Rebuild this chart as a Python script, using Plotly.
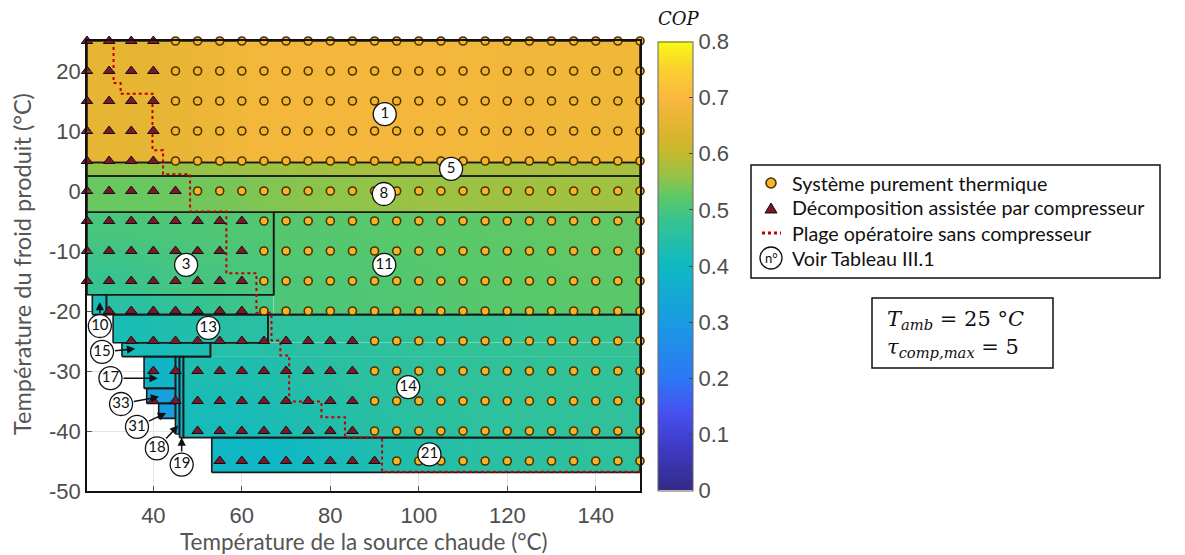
import plotly.graph_objects as go

# ---------------- data ----------------
# operating points grid (rows of cold temperature)
row_y = [25, 20, 15, 10, 5, 0, -5, -10, -15, -20, -25, -30, -35, -40, -45]
tri_first = [25, 25, 25, 25, 25, 25, 25, 25, 25, 30, 35, 40, 40, 50, 55]
tri_last = [40, 40, 40, 40, 40, 45, 60, 60, 60, 60, 85, 85, 85, 85, 90]
circ_first = [45, 45, 45, 45, 45, 50, 65, 65, 65, 65, 90, 90, 90, 90, 95]
circ_last = 150
x_step = 5

# coloured regions (rectangles) with COP estimates (rows bottom->top, cols left->right)
fill_id = ["1", "5", "8", "3", "11a", "11b", "10", "13", "15", "17", "33", "31", "18", "19", "14a", "14b", "14c", "21"]
fill_x0 = [25, 25, 25, 25, 67.2, 29.4, 26.2, 30.9, 32.9, 37.9, 38.5, 41.2, 45.0, 45.9, 46.8, 52.9, 65.9, 53.2]
fill_x1 = [150, 150, 150, 67.2, 150, 67.2, 29.4, 65.9, 52.9, 45.0, 45.0, 45.0, 45.9, 46.8, 150, 150, 150, 150]
fill_y0 = [4.75, 2.5, -3.55, -17.3, -20.6, -20.6, -20.6, -25.3, -27.6, -32.9, -35.4, -37.9, -40.5, -41.1, -41.1, -27.6, -25.3, -46.9]
fill_y1 = [25, 4.75, 2.5, -3.55, -3.55, -17.3, -17.3, -20.6, -25.3, -27.6, -32.9, -35.4, -27.6, -27.6, -27.6, -25.3, -20.6, -41.1]
fill_cop = [
    [[0.655, 0.685, 0.69, 0.685, 0.68]],
    [[0.555, 0.57, 0.575, 0.575]],
    [[0.53, 0.55, 0.565, 0.57]],
    [[0.48, 0.495, 0.5], [0.5, 0.505, 0.51]],
    [[0.505, 0.515, 0.52], [0.515, 0.52, 0.525]],
    [[0.455, 0.475, 0.49]],
    [[0.42]],
    [[0.425, 0.44, 0.45]],
    [[0.415, 0.425]],
    [[0.385]],
    [[0.315]],
    [[0.305]],
    [[0.37]],
    [[0.38]],
    [[0.415, 0.445, 0.46, 0.465], [0.43, 0.455, 0.465, 0.47]],
    [[0.445, 0.46, 0.47, 0.475]],
    [[0.46, 0.47, 0.48]],
    [[0.395, 0.43, 0.45, 0.46]],
]

# region outlines
outline_rect_ids = ["1", "5", "8", "3", "10", "13", "15", "17", "33", "31", "18", "19", "21"]
outline_11 = [(67.2, -3.55), (150, -3.55), (150, -20.6), (29.4, -20.6), (29.4, -17.3), (67.2, -17.3), (67.2, -3.55)]
outline_14 = [(65.9, -20.6), (150, -20.6), (150, -41.1), (46.8, -41.1), (46.8, -27.6), (52.9, -27.6),
              (52.9, -25.3), (65.9, -25.3), (65.9, -20.6)]

# operating range without compressor (dotted boundary)
dot_x = [31, 31, 32.6, 32.6, 39.8, 39.8, 42.2, 42.2, 48.3, 48.3, 56.5, 56.5, 63.3, 63.3, 66.7, 66.7,
         68.7, 68.7, 70.7, 70.7, 78, 78, 83.3, 83.3, 91.7, 91.7, 150]
dot_y = [25, 18, 18, 16.2, 16.2, 6.8, 6.8, 2.8, 2.8, -3.4, -3.4, -13.7, -13.7, -20.3, -20.3, -24.9,
         -24.9, -27.4, -27.4, -35.1, -35.1, -37.7, -37.7, -41.1, -41.1, -46.8, -46.8]

# numbered labels
lab_text = ["1", "5", "8", "3", "11", "13", "14", "21", "10", "15", "17", "33", "31", "18", "19"]
lab_x = [92.3, 107.3, 92.1, 47.4, 92.2, 52.4, 97.6, 102.4, 27.9, 28.4, 30.3, 32.7, 36.3, 40.8, 46.4]
lab_y = [12.8, 3.7, -0.5, -12.3, -12.3, -22.8, -32.7, -43.9, -22.5, -26.8, -31.2, -35.5, -39.3, -42.9, -45.6]
arr_label = ["10", "15", "17", "33", "31", "18", "19"]
arr_x = [27.9, 35.9, 41.0, 41.3, 42.9, 45.6, 46.4]
arr_y = [-18.5, -26.3, -31.2, -34.3, -37.0, -39.1, -41.1]

x_ticks = [40, 60, 80, 100, 120, 140]
y_ticks = [-50, -40, -30, -20, -10, 0, 10, 20]
y_tick_text = ["-50", "-40", "-30", "-20", "-10", "0", "10", "20"]
cb_ticks = [0, 0.1, 0.2, 0.3, 0.4, 0.5, 0.6, 0.7, 0.8]
cb_text = ["0", "0.1", "0.2", "0.3", "0.4", "0.5", "0.6", "0.7", "0.8"]

parula = [
    [0.0, "rgb(53,42,135)"], [0.1, "rgb(62,60,200)"], [0.17, "rgb(70,80,240)"],
    [0.25, "rgb(45,120,245)"], [0.375, "rgb(25,155,225)"], [0.5, "rgb(15,185,195)"],
    [0.6, "rgb(55,195,145)"], [0.65, "rgb(90,200,105)"], [0.7, "rgb(150,195,70)"],
    [0.75, "rgb(195,185,45)"], [0.8, "rgb(222,180,48)"], [0.875, "rgb(250,184,62)"],
    [0.94, "rgb(250,210,45)"], [1.0, "rgb(248,250,20)"],
]

# ---------------- figure ----------------
# the page body has an 8 px margin: everything is laid out in window pixels
OFF = 8
WIN_W, WIN_H = 1185, 555
PL, PR, PT, PB = 87, 640, 41, 491          # plot area in window pixels
W, H = WIN_W - OFF, WIN_H - OFF
ML, MT = PL - OFF, PT - OFF
MR, MB = W - (PR - OFF), H - (PB - OFF)
PW, PH = PR - PL, PB - PT


def px2x(px):
    return (px - PL) / PW


def px2y(py):
    return (PB - py) / PH


fig = go.Figure()

# regions (heatmaps)
for i in range(len(fill_id)):
    z = [list(r) for r in fill_cop[i]]
    if len(z[0]) == 1:
        z = [r * 2 for r in z]
    if len(z) == 1:
        z = [z[0], z[0]]
    nr, nc = len(z), len(z[0])
    x0, x1, y0, y1 = fill_x0[i], fill_x1[i], fill_y0[i], fill_y1[i]
    xe = [x0 + (x1 - x0) * k / nc for k in range(nc + 1)]
    ye = [y0 + (y1 - y0) * k / nr for k in range(nr + 1)]
    fig.add_trace(go.Heatmap(x=xe, y=ye, z=z, coloraxis="coloraxis", zsmooth="best",
                             hoverinfo="skip", showlegend=False))

# outlines
for rid in outline_rect_ids:
    i = fill_id.index(rid)
    x0, x1, y0, y1 = fill_x0[i], fill_x1[i], fill_y0[i], fill_y1[i]
    fig.add_trace(go.Scatter(x=[x0, x1, x1, x0, x0], y=[y0, y0, y1, y1, y0], mode="lines",
                             line=dict(color="#1a1a1a", width=1.6), hoverinfo="skip",
                             showlegend=False, cliponaxis=False))
for poly in (outline_11, outline_14):
    fig.add_trace(go.Scatter(x=[p[0] for p in poly], y=[p[1] for p in poly], mode="lines",
                             line=dict(color="#1a1a1a", width=1.6), hoverinfo="skip",
                             showlegend=False, cliponaxis=False))

# dotted operating range
fig.add_trace(go.Scatter(x=dot_x, y=dot_y, mode="lines",
                         line=dict(color="#c00000", width=2, dash="dot"),
                         hoverinfo="skip", showlegend=False, cliponaxis=False))

# points
tx, ty, cx, cy = [], [], [], []
for k, yv in enumerate(row_y):
    xv = tri_first[k]
    while xv <= tri_last[k]:
        tx.append(xv)
        ty.append(yv)
        xv += x_step
    xv = circ_first[k]
    while xv <= circ_last:
        cx.append(xv)
        cy.append(yv)
        xv += x_step

fig.add_trace(go.Scatter(x=cx, y=cy, mode="markers", cliponaxis=False, showlegend=False,
                         marker=dict(symbol="circle", size=8, color="#f6b42a",
                                     line=dict(color="#4a3500", width=1.6))))
fig.add_trace(go.Scatter(x=tx, y=ty, mode="markers", cliponaxis=False, showlegend=False,
                         marker=dict(symbol="triangle-up", size=10, color="#7d1629",
                                     line=dict(color="#111111", width=1))))

# label circles
fig.add_trace(go.Scatter(x=lab_x, y=lab_y, mode="markers+text", text=lab_text,
                         textposition="middle center", cliponaxis=False, showlegend=False,
                         textfont=dict(family="Lato", size=15, color="#111111"),
                         marker=dict(symbol="circle", size=23, color="white",
                                     line=dict(color="#111111", width=1.3))))

annotations = []
for k, lab in enumerate(arr_label):
    j = lab_text.index(lab)
    annotations.append(dict(x=arr_x[k], y=arr_y[k], ax=lab_x[j], ay=lab_y[j], xref="x", yref="y",
                            axref="x", ayref="y", text="", showarrow=True, arrowhead=2,
                            arrowsize=1.1, arrowwidth=1.5, arrowcolor="#111111",
                            startstandoff=11.5))

# axis titles
annotations.append(dict(x=px2x(364), y=px2y(541), xref="paper", yref="paper",
                        text="Température de la source chaude (°C)", showarrow=False,
                        font=dict(family="Lato", size=22.5, color="#555555"),
                        xanchor="center", yanchor="middle"))
annotations.append(dict(x=px2x(22), y=px2y(264), xref="paper", yref="paper",
                        text="Température du froid produit (°C)", showarrow=False,
                        font=dict(family="Lato", size=23.5, color="#555555"),
                        textangle=-90, xanchor="center", yanchor="middle"))
# colorbar title
annotations.append(dict(x=px2x(679), y=px2y(18), xref="paper", yref="paper",
                        text="<i>COP</i>", showarrow=False,
                        font=dict(family="DejaVu Serif", size=18, color="#111111"),
                        xanchor="center", yanchor="middle"))

# manual legend
shapes = []
shapes.append(dict(type="rect", xref="paper", yref="paper", x0=px2x(751), x1=px2x(1160),
                   y0=px2y(278), y1=px2y(165), line=dict(color="#111111", width=1.5),
                   fillcolor="white"))
leg_y = [183, 208, 233, 258]
leg_text = ["Système purement thermique", "Décomposition assistée par compresseur",
            "Plage opératoire sans compresseur", "Voir Tableau III.1"]
leg_font = dict(family="Lato", size=19.7, color="#111111")
for k, t in enumerate(leg_text):
    annotations.append(dict(x=px2x(790), y=px2y(leg_y[k]), xref="paper", yref="paper", text=t,
                            showarrow=False, font=leg_font, xanchor="left", yanchor="middle"))
shapes.append(dict(type="circle", xref="paper", yref="paper", x0=px2x(766), x1=px2x(776),
                   y0=px2y(188), y1=px2y(178), fillcolor="#f6b42a",
                   line=dict(color="#4a3500", width=1.6)))
shapes.append(dict(type="path", xref="paper", yref="paper",
                   path="M {:.5f},{:.5f} L {:.5f},{:.5f} L {:.5f},{:.5f} Z".format(
                       px2x(765), px2y(213), px2x(777), px2y(213), px2x(771), px2y(203)),
                   fillcolor="#7d1629", line=dict(color="#111111", width=1)))
shapes.append(dict(type="line", xref="paper", yref="paper", x0=px2x(762), x1=px2x(781),
                   y0=px2y(233), y1=px2y(233), line=dict(color="#c00000", width=3, dash="dot")))
shapes.append(dict(type="circle", xref="paper", yref="paper", x0=px2x(760), x1=px2x(782),
                   y0=px2y(269), y1=px2y(247), fillcolor="white",
                   line=dict(color="#111111", width=1.3)))
annotations.append(dict(x=px2x(771), y=px2y(258), xref="paper", yref="paper", text="n°",
                        showarrow=False, font=dict(family="Lato", size=13, color="#111111"),
                        xanchor="center", yanchor="middle"))

# parameter box
shapes.append(dict(type="rect", xref="paper", yref="paper", x0=px2x(872), x1=px2x(1053),
                   y0=px2y(368), y1=px2y(298), line=dict(color="#111111", width=1.5),
                   fillcolor="white"))
box_font = dict(family="DejaVu Serif", size=21, color="#111111")
annotations.append(dict(x=px2x(885), y=px2y(320), xref="paper", yref="paper",
                        text="<i>T</i><sub><i>amb</i></sub> = 25 °<i>C</i>", showarrow=False,
                        font=box_font, xanchor="left", yanchor="middle"))
annotations.append(dict(x=px2x(885), y=px2y(348), xref="paper", yref="paper",
                        text="<i>τ</i><sub><i>comp,max</i></sub> = 5", showarrow=False,
                        font=box_font, xanchor="left", yanchor="middle"))

tick_font = dict(family="Liberation Sans", size=22, color="#4d4d4d")
fig.update_layout(
    width=W, height=H, margin=dict(l=ML, r=MR, t=MT, b=MB, pad=0),
    paper_bgcolor="white", plot_bgcolor="white",
    xaxis=dict(range=[25, 150], tickvals=x_ticks, showgrid=True, gridcolor="#e4e4e4",
               zeroline=False, showline=True, linecolor="#111111", linewidth=1.5, mirror=True,
               ticks="inside", ticklen=5, tickcolor="#555555", tickfont=tick_font,
               ticklabelstandoff=4),
    yaxis=dict(range=[-50, 25], tickvals=y_ticks, ticktext=y_tick_text, showgrid=True,
               gridcolor="#e4e4e4", zeroline=False, showline=True, linecolor="#111111",
               linewidth=1.5, mirror=True, ticks="inside", ticklen=5, tickcolor="#555555",
               tickfont=tick_font),
    coloraxis=dict(colorscale=parula, cmin=0, cmax=0.8,
                   colorbar=dict(x=px2x(658), xanchor="left", xpad=0, ypad=0,
                                 thickness=35, thicknessmode="pixels",
                                 len=449, lenmode="pixels", y=0.5, yanchor="middle",
                                 tickvals=cb_ticks, ticktext=cb_text, ticks="inside",
                                 ticklen=4, tickcolor="#444444", tickfont=tick_font,
                                 outlinecolor="#666666", outlinewidth=1)),
    annotations=annotations, shapes=shapes, showlegend=False,
)

fig.write_html("out.html")
